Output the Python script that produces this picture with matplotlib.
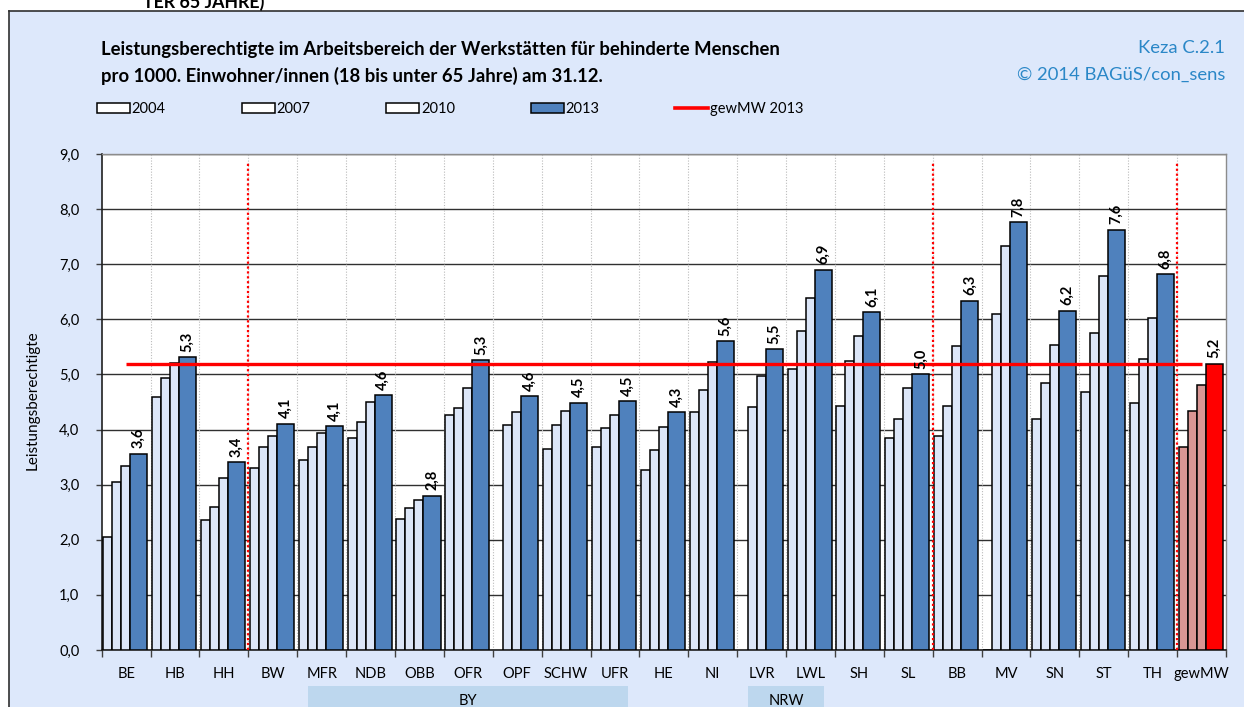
import numpy as np
import matplotlib
matplotlib.use("Agg")
import matplotlib.pyplot as plt
from matplotlib.patches import Rectangle
from matplotlib.lines import Line2D
import matplotlib.transforms as mtransforms

plt.rcParams['font.family'] = ['Lato', 'DejaVu Sans']

# ---------------- data ----------------
categories = ["BE", "HB", "HH", "BW", "MFR", "NDB", "OBB", "OFR", "OPF", "SCHW", "UFR",
              "HE", "NI", "LVR", "LWL", "SH", "SL", "BB", "MV", "SN", "ST", "TH", "gewMW"]
years = ["2004", "2007", "2010", "2013"]
v2004 = [2.05, 4.59, 2.36, 3.30, 3.44, 3.85, 2.38, 4.26, np.nan, 3.64, 3.69,
         3.27, 4.32, np.nan, 5.09, 4.43, 3.84, 3.89, 0.0, 4.20, 4.69, 4.49, 3.69]
v2007 = [3.05, 4.93, 2.60, 3.69, 3.69, 4.14, 2.58, 4.39, 4.08, 4.08, 4.02,
         3.63, 4.72, 4.41, 5.78, 5.25, 4.20, 4.42, 6.09, 4.84, 5.76, 5.28, 4.34]
v2010 = [3.33, 5.21, 3.13, 3.88, 3.93, 4.50, 2.72, 4.76, 4.31, 4.34, 4.27,
         4.05, 5.22, 4.97, 6.39, 5.69, 4.75, 5.52, 7.33, 5.53, 6.78, 6.02, 4.81]
v2013 = [3.56, 5.31, 3.41, 4.10, 4.06, 4.62, 2.80, 5.26, 4.60, 4.49, 4.51,
         4.31, 5.60, 5.46, 6.90, 6.13, 5.00, 6.34, 7.76, 6.16, 7.62, 6.82, 5.19]
gewmw_2013 = [5.19] * len(categories)
separators_after = ["HH", "SL", "TH"]
groups = [("BY", "MFR", "UFR"), ("NRW", "LVR", "LWL")]

title_lines = ["Leistungsberechtigte im Arbeitsbereich der Werkstätten für behinderte Menschen",
               "pro 1000. Einwohner/innen (18 bis unter 65 Jahre) am 31.12."]
source_lines = ["Keza C.2.1", "© 2014 BAGüS/con_sens"]
header_cut = "TER 65 JAHRE)"
ylabel = "Leistungsberechtigte"
line_label = "gewMW 2013"

# ---------------- style ----------------
W, H = 1244, 707
fig = plt.figure(figsize=(W / 100, H / 100), dpi=100)
fig.patch.set_facecolor("white")

bg = "#DDE8FB"
light = "#DCE6F8"
blue = "#4F81BD"
rose = "#D99694"
red = "#FF0000"
txtblue = "#2A87C7"

# chart area background with left/top border
fig.add_artist(Rectangle((9 / W, 0), 1 - 9 / W, 1 - 11 / H, transform=fig.transFigure,
                         facecolor=bg, edgecolor="none", zorder=0))
fig.add_artist(Line2D([9 / W, 9 / W], [0, 1 - 11 / H], transform=fig.transFigure,
                      color="#303030", lw=1.2, zorder=1))
fig.add_artist(Line2D([9 / W, 1], [1 - 11 / H, 1 - 11 / H], transform=fig.transFigure,
                      color="#303030", lw=1.2, zorder=1))
fig.text(143 / W, 1 - 8 / H, header_cut, fontsize=12.8, fontweight="bold",
         ha="left", va="baseline")

ax_l, ax_r, ax_b, ax_t = 101.7, 1226, 650, 154
ax = fig.add_axes([ax_l / W, (H - ax_b) / H, (ax_r - ax_l) / W, (ax_b - ax_t) / H])
ax.set_facecolor("white")

n = len(categories)
x = np.arange(n)
w_small = 0.184
w_big = 0.35
start = -0.5 + 0.03

series = [v2004, v2007, v2010]
for k, vals in enumerate(series):
    cols = [light] * (n - 1) + [rose]
    ax.bar(x + start + k * w_small, vals, width=w_small, align="edge",
           color=cols, edgecolor="black", linewidth=1.1, zorder=3, label=years[k])
cols13 = [blue] * (n - 1) + [red]
ax.bar(x + start + 3 * w_small, v2013, width=w_big, align="edge",
       color=cols13, edgecolor="black", linewidth=1.1, zorder=3, label=years[3])

# value labels on 2013 bars
for xi, v in zip(x, v2013):
    ax.annotate(f"{v:.1f}".replace(".", ","), (xi + start + 3 * w_small + w_big / 2, v),
                xytext=(0, 4), textcoords="offset points", rotation=90,
                ha="center", va="bottom", fontsize=10.5, fontweight="bold", zorder=6)

# average line
ax.plot(x, gewmw_2013, color=red, lw=2.4, zorder=5, solid_capstyle="butt")

# red dotted separators
for name in separators_after:
    xs = categories.index(name) + 0.5
    ax.plot([xs, xs], [0, 8.85], color=red, lw=1.6, ls=(0, (1, 1.2)), zorder=4)

# grid
ax.set_ylim(0, 9)
ax.set_xlim(-0.5, n - 0.5)
ax.set_yticks(np.arange(0, 9.01, 1))
ax.set_yticklabels([f"{t:.1f}".replace(".", ",") for t in np.arange(0, 9.01, 1)], fontsize=10.5)
ax.yaxis.grid(True, color="#303030", lw=1.0, zorder=1)
for b in np.arange(0.5, n - 1, 1):
    ax.axvline(b, color="#BBBBBB", lw=0.8, ls=(0, (1, 1.5)), zorder=1)

ax.set_xticks(np.arange(-0.5, n, 1))
ax.set_xticklabels([])
ax.set_xticks(x, minor=True)
ax.set_xticklabels(categories, minor=True, fontsize=10.5)
ax.tick_params(axis="x", which="major", length=5, width=1, direction="out", color="#404040")
ax.tick_params(axis="x", which="minor", length=0, pad=12)
ax.tick_params(axis="y", length=4, width=1, direction="out", pad=12, color="#404040")
ax.set_axisbelow(True)

for s in ["left", "bottom"]:
    ax.spines[s].set_color("#202020")
    ax.spines[s].set_linewidth(1.2)
for s in ["top", "right"]:
    ax.spines[s].set_color("#8C8C8C")
    ax.spines[s].set_linewidth(1.0)

fig.text(33 / W, 1 - 400 / H, ylabel, rotation=90, ha="center", va="center", fontsize=11)

# group boxes below axis
trans = mtransforms.blended_transform_factory(ax.transData, ax.transAxes)
for gname, g0, g1 in groups:
    x0 = categories.index(g0) - 0.5 + 0.23
    x1 = categories.index(g1) + 0.5 - 0.23
    ax.add_patch(Rectangle((x0, -0.2), x1 - x0, 0.2 - (686 - 650) / 496, transform=trans,
                           facecolor="#BDD7EE", edgecolor="none", clip_on=False, zorder=2))
    ax.text((x0 + x1) / 2, -(701 - 650) / 496, gname, transform=trans, ha="center",
            va="center", fontsize=10.5)

# titles
fig.text(101 / W, 1 - 50 / H, title_lines[0], fontsize=13.3, fontweight="bold", va="center")
fig.text(101 / W, 1 - 76 / H, title_lines[1], fontsize=13.3, fontweight="bold", va="center")
fig.text(1225 / W, 1 - 48 / H, source_lines[0], fontsize=13.3, color=txtblue, ha="right", va="center")
fig.text(1225 / W, 1 - 75 / H, source_lines[1], fontsize=13.3, color=txtblue, ha="right", va="center")

# legend
handles = [Rectangle((0, 0), 1, 1, facecolor="white", edgecolor="black", lw=1.1) for _ in range(3)]
handles.append(Rectangle((0, 0), 1, 1, facecolor=blue, edgecolor="black", lw=1.1))
handles.append(Line2D([0], [0], color=red, lw=2.6))
fs = 10.5
fig.legend(handles, years + [line_label], ncol=5, loc="center left",
           bbox_to_anchor=(97 / W, 1 - 109 / H), frameon=False, fontsize=fs,
           handlelength=33 / (fs * 100 / 72), handleheight=0.62,
           handletextpad=0.12, columnspacing=5.2, borderpad=0, borderaxespad=0)

fig.savefig("out.png", dpi=100, facecolor=fig.get_facecolor())
